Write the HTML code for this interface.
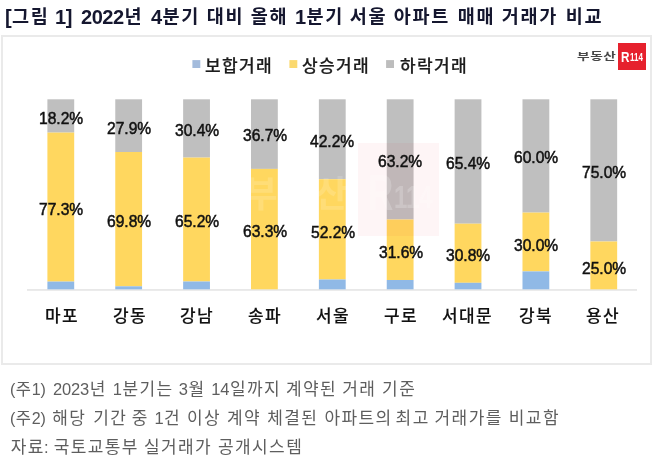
<!DOCTYPE html>
<html lang="ko">
<head>
<meta charset="utf-8">
<title>2022년 4분기 대비 올해 1분기 서울 아파트 매매 거래가 비교</title>
<style>
html,body{margin:0;padding:0;background:#fff;}
body{width:658px;height:465px;overflow:hidden;position:relative;font-family:'Liberation Sans','Noto Sans CJK KR',sans-serif;}
#wrap{position:absolute;left:0;top:0;width:658px;height:465px;overflow:hidden;background:#fff;filter:blur(0.4px);}
.t{position:absolute;white-space:pre;line-height:1;transform-origin:0 0;font-family:'Liberation Sans','Noto Sans CJK KR',sans-serif;}
.ti{font-size:20px;font-weight:700;letter-spacing:-0.5px;}
.ti i{font-style:normal;font-size:18.5px;letter-spacing:1.65px;margin-left:0.82px;margin-right:-0.82px;position:relative;top:-1px;}
.lg{font-size:16.5px;font-weight:500;letter-spacing:1.3px;-webkit-text-stroke:0.2px #1c1c1c;}
.dl{font-size:16px;font-weight:400;letter-spacing:0px;-webkit-text-stroke:0.5px #111;}
.ct{font-size:16.5px;font-weight:500;letter-spacing:1.3px;-webkit-text-stroke:0.12px #111;}
.fn{font-size:16.5px;font-weight:400;letter-spacing:-0.2px;}
.fn i{font-style:normal;font-size:17px;letter-spacing:1.4px;margin-left:0.70px;margin-right:-0.70px;}
.g{margin:0;padding:0;font-size:16px;font-weight:400;}
svg{position:absolute;left:0;top:0;}
.frame{position:absolute;left:1.4px;top:35px;width:650.5px;height:330px;border:2px solid #eaeaea;box-sizing:border-box;}
.wm{position:absolute;opacity:.045;}
.logo-box{position:absolute;left:617.9px;top:43.1px;width:27.9px;height:27px;background:#e6212d;}
</style>
</head>
<body>
<div id="wrap">
<div class="frame"></div>
<svg width="658" height="465" viewBox="0 0 658 465" shape-rendering="geometricPrecision">
<rect x="27" y="289.3" width="610" height="1.3" fill="#dedede"/>
<rect x="47.40" y="99.3" width="26.8" height="33.30" fill="#bfbfbf"/>
<rect x="47.40" y="132.60" width="26.8" height="149.00" fill="#ffd75f"/>
<rect x="47.40" y="281.60" width="26.8" height="7.70" fill="#90b9e6"/>
<rect x="115.27" y="99.3" width="26.8" height="52.70" fill="#bfbfbf"/>
<rect x="115.27" y="152.00" width="26.8" height="134.30" fill="#ffd75f"/>
<rect x="115.27" y="286.30" width="26.8" height="3.00" fill="#90b9e6"/>
<rect x="183.14" y="99.3" width="26.8" height="58.30" fill="#bfbfbf"/>
<rect x="183.14" y="157.60" width="26.8" height="123.90" fill="#ffd75f"/>
<rect x="183.14" y="281.50" width="26.8" height="7.80" fill="#90b9e6"/>
<rect x="251.01" y="99.3" width="26.8" height="69.60" fill="#bfbfbf"/>
<rect x="251.01" y="168.90" width="26.8" height="120.40" fill="#ffd75f"/>
<rect x="318.88" y="99.3" width="26.8" height="79.90" fill="#bfbfbf"/>
<rect x="318.88" y="179.20" width="26.8" height="100.30" fill="#ffd75f"/>
<rect x="318.88" y="279.50" width="26.8" height="9.80" fill="#90b9e6"/>
<rect x="386.75" y="99.3" width="26.8" height="120.20" fill="#bfbfbf"/>
<rect x="386.75" y="219.50" width="26.8" height="60.50" fill="#ffd75f"/>
<rect x="386.75" y="280.00" width="26.8" height="9.30" fill="#90b9e6"/>
<rect x="454.62" y="99.3" width="26.8" height="124.40" fill="#bfbfbf"/>
<rect x="454.62" y="223.70" width="26.8" height="59.10" fill="#ffd75f"/>
<rect x="454.62" y="282.80" width="26.8" height="6.50" fill="#90b9e6"/>
<rect x="522.49" y="99.3" width="26.8" height="113.30" fill="#bfbfbf"/>
<rect x="522.49" y="212.60" width="26.8" height="58.80" fill="#ffd75f"/>
<rect x="522.49" y="271.40" width="26.8" height="17.90" fill="#90b9e6"/>
<rect x="590.36" y="99.3" width="26.8" height="142.20" fill="#bfbfbf"/>
<rect x="590.36" y="241.50" width="26.8" height="47.80" fill="#ffd75f"/>
<rect x="192.4" y="60.1" width="7.9" height="7.9" fill="#a3bbdc"/>
<rect x="289.4" y="60.1" width="7.9" height="7.9" fill="#fbd96f"/>
<rect x="386.1" y="60.1" width="7.9" height="7.9" fill="#bdbdbd"/>
</svg>
<div class="wm" style="left:357.5px;top:143px;width:81.5px;height:93px;background:#e6212d;"></div>
<span class="t" style="left:244.5px;top:177px;font-size:36px;font-weight:700;color:#fff;opacity:.15;letter-spacing:2px;">부동산</span>
<span class="t" style="left:367.5px;top:168px;font-size:50px;font-weight:700;color:#fff;opacity:.2;transform:scaleX(.7);">R</span>
<span class="t" style="left:393.5px;top:181px;font-size:32px;font-weight:700;color:#fff;opacity:.2;transform:scaleX(.75);">114</span>
<span class="t" style="left:577px;top:52.3px;font-size:10px;font-weight:700;color:#484848;letter-spacing:0.4px;transform:scaleX(1.37);">부동산</span>
<div class="logo-box"></div>
<span class="t" style="left:621.3px;top:49.4px;font-size:15px;font-weight:700;color:#fff;transform:scaleX(.78);">R</span>
<span class="t" style="left:629.8px;top:53.4px;font-size:10px;font-weight:700;color:#fff;transform:scaleX(.8);">114</span>
<h1 class="g title">
<span id="x0" class="t ti" style="left:4.87px;top:7.00px;color:#15172f;transform:scaleX(1.0029);">[<i>그림</i></span>
<span id="x1" class="t ti" style="left:54.67px;top:7.00px;color:#15172f;transform:scaleX(1.0029);">1]</span>
<span id="x2" class="t ti" style="left:81.36px;top:7.00px;color:#15172f;transform:scaleX(1.0029);">2022<i>년</i></span>
<span id="x3" class="t ti" style="left:150.88px;top:7.00px;color:#15172f;transform:scaleX(1.0029);">4<i>분기</i></span>
<span id="x4" class="t ti" style="left:205.80px;top:7.00px;color:#15172f;transform:scaleX(1.0029);"><i>대비</i></span>
<span id="x5" class="t ti" style="left:249.90px;top:7.00px;color:#15172f;transform:scaleX(1.0029);"><i>올해</i></span>
<span id="x6" class="t ti" style="left:294.63px;top:7.00px;color:#15172f;transform:scaleX(1.0029);">1<i>분기</i></span>
<span id="x7" class="t ti" style="left:348.92px;top:7.00px;color:#15172f;transform:scaleX(1.0029);"><i>서울</i></span>
<span id="x8" class="t ti" style="left:393.22px;top:7.00px;color:#15172f;transform:scaleX(1.0029);"><i>아파트</i></span>
<span id="x9" class="t ti" style="left:456.90px;top:7.00px;color:#15172f;transform:scaleX(1.0029);"><i>매매</i></span>
<span id="x10" class="t ti" style="left:500.69px;top:7.00px;color:#15172f;transform:scaleX(1.0029);"><i>거래가</i></span>
<span id="x11" class="t ti" style="left:564.55px;top:7.00px;color:#15172f;transform:scaleX(1.0029);"><i>비교</i></span>
</h1>
<div class="g legend">
<span id="x12" class="t lg" style="left:205.45px;top:58.00px;color:#1c1c1c;transform:scaleX(1.0327);">보합거래</span>
<span id="x13" class="t lg" style="left:301.88px;top:58.00px;color:#1c1c1c;transform:scaleX(1.0327);">상승거래</span>
<span id="x14" class="t lg" style="left:400.18px;top:58.00px;color:#1c1c1c;transform:scaleX(1.0327);">하락거래</span>
</div>
<div class="g values">
<span id="x15" class="t dl" style="left:39.16px;top:111.00px;color:#111;transform:scaleX(0.9734);">18.2%</span>
<span id="x16" class="t dl" style="left:106.76px;top:121.00px;color:#111;transform:scaleX(0.9734);">27.9%</span>
<span id="x17" class="t dl" style="left:174.93px;top:123.00px;color:#111;transform:scaleX(0.9734);">30.4%</span>
<span id="x18" class="t dl" style="left:242.58px;top:128.00px;color:#111;transform:scaleX(0.9734);">36.7%</span>
<span id="x19" class="t dl" style="left:310.30px;top:134.00px;color:#111;transform:scaleX(0.9734);">42.2%</span>
<span id="x20" class="t dl" style="left:378.06px;top:154.00px;color:#111;transform:scaleX(0.9734);">63.2%</span>
<span id="x21" class="t dl" style="left:445.71px;top:156.00px;color:#111;transform:scaleX(0.9734);">65.4%</span>
<span id="x22" class="t dl" style="left:513.81px;top:150.00px;color:#111;transform:scaleX(0.9734);">60.0%</span>
<span id="x23" class="t dl" style="left:582.26px;top:165.00px;color:#111;transform:scaleX(0.9734);">75.0%</span>
<span id="x24" class="t dl" style="left:39.01px;top:202.00px;color:#111;transform:scaleX(0.9734);">77.3%</span>
<span id="x25" class="t dl" style="left:106.76px;top:214.00px;color:#111;transform:scaleX(0.9734);">69.8%</span>
<span id="x26" class="t dl" style="left:174.66px;top:214.00px;color:#111;transform:scaleX(0.9734);">65.2%</span>
<span id="x27" class="t dl" style="left:242.86px;top:224.00px;color:#111;transform:scaleX(0.9734);">63.3%</span>
<span id="x28" class="t dl" style="left:310.78px;top:225.00px;color:#111;transform:scaleX(0.9734);">52.2%</span>
<span id="x29" class="t dl" style="left:378.73px;top:245.00px;color:#111;transform:scaleX(0.9734);">31.6%</span>
<span id="x30" class="t dl" style="left:445.83px;top:248.00px;color:#111;transform:scaleX(0.9734);">30.8%</span>
<span id="x31" class="t dl" style="left:513.93px;top:238.00px;color:#111;transform:scaleX(0.9734);">30.0%</span>
<span id="x32" class="t dl" style="left:582.26px;top:261.00px;color:#111;transform:scaleX(0.9734);">25.0%</span>
</div>
<div class="g categories">
<span id="x33" class="t ct" style="left:44.75px;top:308.00px;color:#111;transform:scaleX(1.0294);">마포</span>
<span id="x34" class="t ct" style="left:112.56px;top:308.00px;color:#111;transform:scaleX(1.0294);">강동</span>
<span id="x35" class="t ct" style="left:179.83px;top:308.00px;color:#111;transform:scaleX(1.0294);">강남</span>
<span id="x36" class="t ct" style="left:248.05px;top:308.00px;color:#111;transform:scaleX(1.0294);">송파</span>
<span id="x37" class="t ct" style="left:315.69px;top:308.00px;color:#111;transform:scaleX(1.0294);">서울</span>
<span id="x38" class="t ct" style="left:384.11px;top:308.00px;color:#111;transform:scaleX(1.0294);">구로</span>
<span id="x39" class="t ct" style="left:442.49px;top:308.00px;color:#111;transform:scaleX(1.0294);">서대문</span>
<span id="x40" class="t ct" style="left:519.16px;top:308.00px;color:#111;transform:scaleX(1.0294);">강북</span>
<span id="x41" class="t ct" style="left:586.43px;top:308.00px;color:#111;transform:scaleX(1.0294);">용산</span>
</div>
<p class="g note">
<span id="x42" class="t fn" style="left:10.13px;top:381.00px;color:#5e5e5e;transform:scaleX(0.9727);">(<i>주</i>1)</span>
<span id="x43" class="t fn" style="left:53.09px;top:381.00px;color:#5e5e5e;">2023<i>년</i></span>
<span id="x44" class="t fn" style="left:112.84px;top:381.00px;color:#5e5e5e;">1<i>분기는</i></span>
<span id="x45" class="t fn" style="left:178.71px;top:381.00px;color:#5e5e5e;">3<i>월</i></span>
<span id="x46" class="t fn" style="left:211.26px;top:381.00px;color:#5e5e5e;">14<i>일까지</i></span>
<span id="x47" class="t fn" style="left:285.34px;top:381.00px;color:#5e5e5e;"><i>계약된</i></span>
<span id="x48" class="t fn" style="left:341.58px;top:381.00px;color:#5e5e5e;"><i>거래</i></span>
<span id="x49" class="t fn" style="left:381.43px;top:381.00px;color:#5e5e5e;"><i>기준</i></span>
</p>
<p class="g note">
<span id="x50" class="t fn" style="left:10.13px;top:410.00px;color:#5e5e5e;transform:scaleX(0.9727);">(<i>주</i>2)</span>
<span id="x51" class="t fn" style="left:51.58px;top:410.00px;color:#5e5e5e;"><i>해당</i></span>
<span id="x52" class="t fn" style="left:92.46px;top:410.00px;color:#5e5e5e;"><i>기간</i></span>
<span id="x53" class="t fn" style="left:131.05px;top:410.00px;color:#5e5e5e;"><i>중</i></span>
<span id="x54" class="t fn" style="left:154.38px;top:410.00px;color:#5e5e5e;">1<i>건</i></span>
<span id="x55" class="t fn" style="left:186.23px;top:410.00px;color:#5e5e5e;"><i>이상</i></span>
<span id="x56" class="t fn" style="left:226.38px;top:410.00px;color:#5e5e5e;"><i>계약</i></span>
<span id="x57" class="t fn" style="left:266.54px;top:410.00px;color:#5e5e5e;"><i>체결된</i></span>
<span id="x58" class="t fn" style="left:323.76px;top:410.00px;color:#5e5e5e;"><i>아파트의</i></span>
<span id="x59" class="t fn" style="left:394.91px;top:410.00px;color:#5e5e5e;"><i>최고</i></span>
<span id="x60" class="t fn" style="left:433.86px;top:410.00px;color:#5e5e5e;"><i>거래가를</i></span>
<span id="x61" class="t fn" style="left:508.11px;top:410.00px;color:#5e5e5e;"><i>비교함</i></span>
</p>
<p class="g note">
<span id="x62" class="t fn" style="left:9.96px;top:439.00px;color:#5e5e5e;"><i>자료</i>:</span>
<span id="x63" class="t fn" style="left:52.94px;top:439.00px;color:#5e5e5e;"><i>국토교통부</i></span>
<span id="x64" class="t fn" style="left:143.19px;top:439.00px;color:#5e5e5e;"><i>실거래가</i></span>
<span id="x65" class="t fn" style="left:217.29px;top:439.00px;color:#5e5e5e;"><i>공개시스템</i></span>
</p>
</div>
</body>
</html>
